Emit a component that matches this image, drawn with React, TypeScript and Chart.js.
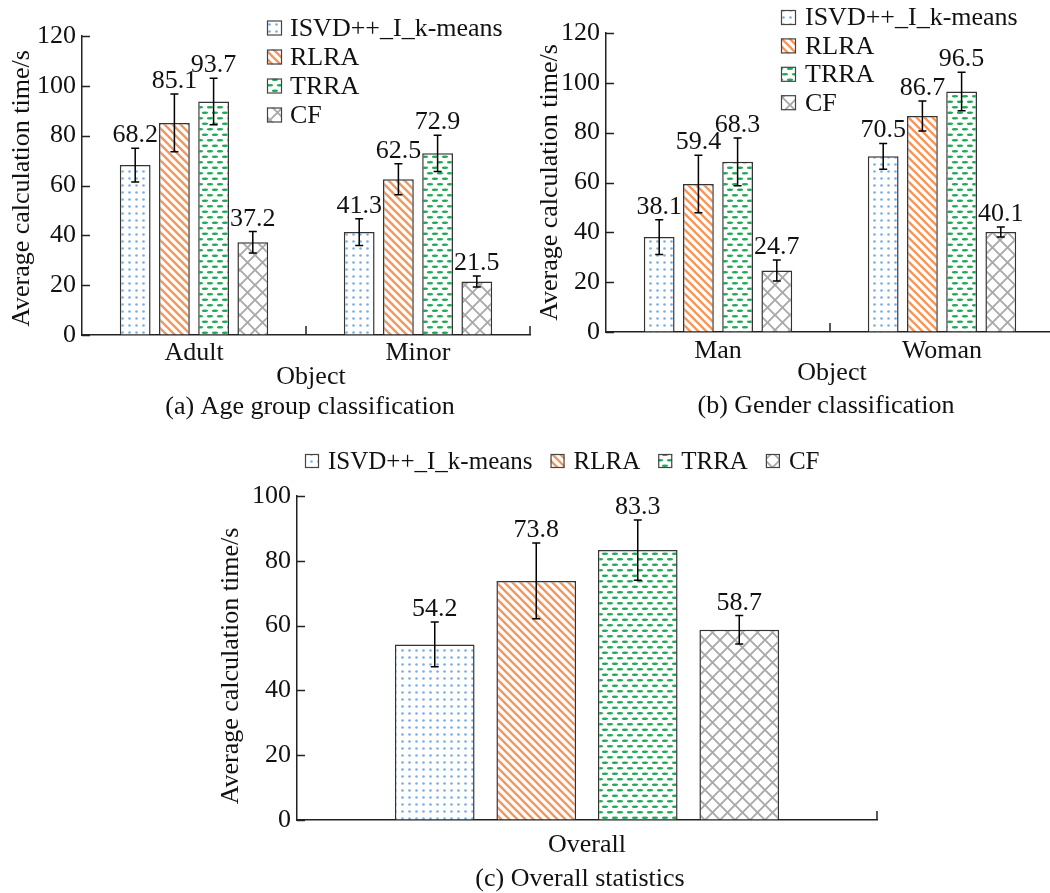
import React, { useEffect, useRef } from 'react';
import { Chart, registerables } from 'chart.js';

Chart.register(...registerables);

const FONT = '"Liberation Serif", "Times New Roman", Times, serif';
const TEXT_SIZE = 26;
const INK = '#111';

// Series shown in every panel
const SERIES = ['ISVD++_I_k-means', 'RLRA', 'TRRA', 'CF'];

// (a) Age group classification
const AGE_CATEGORIES = ['Adult', 'Minor'];
const AGE_ISVD = [68.2, 41.3];
const AGE_RLRA = [85.1, 62.5];
const AGE_TRRA = [93.7, 72.9];
const AGE_CF = [37.2, 21.5];
const AGE_ISVD_ERR = [6.8, 5.4];
const AGE_RLRA_ERR = [11.6, 6.2];
const AGE_TRRA_ERR = [9.3, 7.3];
const AGE_CF_ERR = [4.3, 2.2];

// (b) Gender classification
const GENDER_CATEGORIES = ['Man', 'Woman'];
const GENDER_ISVD = [38.1, 70.5];
const GENDER_RLRA = [59.4, 86.7];
const GENDER_TRRA = [68.3, 96.5];
const GENDER_CF = [24.7, 40.1];
const GENDER_ISVD_ERR = [7.0, 5.2];
const GENDER_RLRA_ERR = [11.5, 6.0];
const GENDER_TRRA_ERR = [9.6, 7.7];
const GENDER_CF_ERR = [4.2, 2.0];

// (c) Overall statistics
const OVERALL_CATEGORIES = ['Overall'];
const OVERALL_ISVD = [54.2];
const OVERALL_RLRA = [73.8];
const OVERALL_TRRA = [83.3];
const OVERALL_CF = [58.7];
const OVERALL_ISVD_ERR = [6.9];
const OVERALL_RLRA_ERR = [11.7];
const OVERALL_TRRA_ERR = [9.3];
const OVERALL_CF_ERR = [4.4];

const Y_TITLE = 'Average calculation time/s';

type Kind = 'dots' | 'stripes' | 'dashes' | 'cross';
const KINDS: Kind[] = ['dots', 'stripes', 'dashes', 'cross'];

function makePattern(kind: Kind): CanvasPattern | string {
  const c = document.createElement('canvas');
  const g = c.getContext('2d');
  if (!g) return '#fff';
  if (kind === 'dots') {
    c.width = 7; c.height = 7;
    g.fillStyle = '#fff'; g.fillRect(0, 0, 7, 7);
    g.fillStyle = '#78aee4';
    g.beginPath(); g.arc(3.5, 3.5, 1.3, 0, Math.PI * 2); g.fill();
  } else if (kind === 'stripes') {
    const s = 8;
    c.width = s; c.height = s;
    g.fillStyle = '#fff'; g.fillRect(0, 0, s, s);
    g.strokeStyle = '#f4965a'; g.lineWidth = 2.3;
    g.beginPath();
    g.moveTo(-2, -2); g.lineTo(s + 2, s + 2);
    g.moveTo(-2, s - 2); g.lineTo(2, s + 2);
    g.moveTo(s - 2, -2); g.lineTo(s + 2, 2);
    g.stroke();
  } else if (kind === 'dashes') {
    c.width = 10; c.height = 11;
    g.fillStyle = '#fff'; g.fillRect(0, 0, 10, 11);
    g.fillStyle = '#22aa58';
    const dash = (x: number, y: number) => {
      g.beginPath(); g.ellipse(x, y, 3.1, 1.3, 0, 0, Math.PI * 2); g.fill();
    };
    dash(5, 2.75); dash(0, 8.25); dash(10, 8.25);
  } else {
    const s = 15;
    c.width = s; c.height = s;
    g.fillStyle = '#fff'; g.fillRect(0, 0, s, s);
    g.strokeStyle = '#a9a9a9'; g.lineWidth = 1.9;
    g.beginPath();
    g.moveTo(-2, -2); g.lineTo(s + 2, s + 2);
    g.moveTo(-2, s + 2); g.lineTo(s + 2, -2);
    g.stroke();
  }
  return g.createPattern(c, 'repeat') || '#fff';
}

type PanelCfg = {
  left: number; top: number; width: number; height: number;
  padTop: number; padRight: number; yWidth: number; xHeight: number;
  xTickPad: number; yMax: number;
  categories: string[];
  values: number[][];
  errors: number[][];
  yTitle: { x: number; dy: number };
  xTitle?: { text: string; x: number; y: number };
  caption: { text: string; x: number; y: number };
  legend: { horizontal: boolean; x: number; y: number; step: number; box: number; gap: number; size: number };
};

const PANELS: PanelCfg[] = [
  {
    left: 0, top: 0, width: 540, height: 430,
    padTop: 36, padRight: 10, yWidth: 82, xHeight: 95, xTickPad: 3, yMax: 120,
    categories: AGE_CATEGORIES,
    values: [AGE_ISVD, AGE_RLRA, AGE_TRRA, AGE_CF],
    errors: [AGE_ISVD_ERR, AGE_RLRA_ERR, AGE_TRRA_ERR, AGE_CF_ERR],
    yTitle: { x: 22, dy: 3 },
    xTitle: { text: 'Object', x: 311, y: 377 },
    caption: { text: '(a) Age group classification', x: 310, y: 407 },
    legend: { horizontal: false, x: 267, y: 28, step: 29, box: 15, gap: 8, size: 26 },
  },
  {
    left: 535, top: 0, width: 525, height: 430,
    padTop: 33, padRight: 6, yWidth: 71, xHeight: 98, xTickPad: 4, yMax: 120,
    categories: GENDER_CATEGORIES,
    values: [GENDER_ISVD, GENDER_RLRA, GENDER_TRRA, GENDER_CF],
    errors: [GENDER_ISVD_ERR, GENDER_RLRA_ERR, GENDER_TRRA_ERR, GENDER_CF_ERR],
    yTitle: { x: 15, dy: 0 },
    xTitle: { text: 'Object', x: 297, y: 373 },
    caption: { text: '(b) Gender classification', x: 291, y: 406 },
    legend: { horizontal: false, x: 246, y: 17.5, step: 28.4, box: 15, gap: 9, size: 26 },
  },
  {
    left: 0, top: 430, width: 1050, height: 463,
    padTop: 66, padRight: 173, yWidth: 297, xHeight: 73, xTickPad: 10, yMax: 100,
    categories: OVERALL_CATEGORIES,
    values: [OVERALL_ISVD, OVERALL_RLRA, OVERALL_TRRA, OVERALL_CF],
    errors: [OVERALL_ISVD_ERR, OVERALL_RLRA_ERR, OVERALL_TRRA_ERR, OVERALL_CF_ERR],
    yTitle: { x: 231, dy: 8 },
    caption: { text: '(c) Overall statistics', x: 580, y: 449 },
    legend: { horizontal: true, x: 305, y: 31, step: 18, box: 14, gap: 9, size: 25 },
  },
];

function makeDecor(cfg: PanelCfg, fills: (CanvasPattern | string)[]) {
  const font = `${TEXT_SIZE}px ${FONT}`;
  return {
    id: 'decor',
    afterDatasetsDraw(chart: any) {
      const ctx: CanvasRenderingContext2D = chart.ctx;
      const y = chart.scales.y;
      ctx.save();
      ctx.strokeStyle = '#000';
      ctx.lineWidth = 1.5;
      ctx.fillStyle = INK;
      ctx.font = font;
      ctx.textAlign = 'center';
      ctx.textBaseline = 'alphabetic';
      cfg.values.forEach((series, i) => {
        const meta = chart.getDatasetMeta(i);
        series.forEach((v, j) => {
          const el = meta.data[j];
          const e = cfg.errors[i][j];
          const x = el.x;
          const yt = y.getPixelForValue(v + e);
          const yb = y.getPixelForValue(v - e);
          ctx.beginPath();
          ctx.moveTo(x, yt); ctx.lineTo(x, yb);
          ctx.moveTo(x - 4, yt); ctx.lineTo(x + 4, yt);
          ctx.moveTo(x - 4, yb); ctx.lineTo(x + 4, yb);
          ctx.stroke();
          ctx.fillText(v.toFixed(1), x, yt - 6);
        });
      });
      ctx.restore();
    },
    afterDraw(chart: any) {
      const ctx: CanvasRenderingContext2D = chart.ctx;
      const area = chart.chartArea;
      const x = chart.scales.x;
      const y = chart.scales.y;
      ctx.save();
      ctx.strokeStyle = '#222';
      ctx.lineWidth = 1.5;
      // inward tick marks on the value axis
      ctx.beginPath();
      y.ticks.forEach((t: any) => {
        const py = Math.round(y.getPixelForValue(t.value)) + 0.5;
        ctx.moveTo(area.left, py); ctx.lineTo(area.left + 8, py);
      });
      // category boundary ticks on the bottom axis
      const n = cfg.categories.length;
      for (let i = 1; i <= n; i++) {
        const px = i < n ? (x.getPixelForValue(i - 1) + x.getPixelForValue(i)) / 2 : area.right;
        ctx.moveTo(px, area.bottom); ctx.lineTo(px, area.bottom - 9);
      }
      ctx.stroke();

      ctx.fillStyle = INK;
      ctx.font = font;
      ctx.textAlign = 'center';
      ctx.textBaseline = 'middle';
      // value axis title
      ctx.save();
      ctx.translate(cfg.yTitle.x, (area.top + area.bottom) / 2 + cfg.yTitle.dy);
      ctx.rotate(-Math.PI / 2);
      ctx.fillText(Y_TITLE, 0, 0);
      ctx.restore();
      if (cfg.xTitle) ctx.fillText(cfg.xTitle.text, cfg.xTitle.x, cfg.xTitle.y);
      ctx.fillText(cfg.caption.text, cfg.caption.x, cfg.caption.y);

      // legend
      const lg = cfg.legend;
      ctx.font = `${lg.size}px ${FONT}`;
      ctx.textAlign = 'left';
      let lx = lg.x;
      SERIES.forEach((name, i) => {
        const bx = lg.horizontal ? lx : lg.x;
        const cy = lg.horizontal ? lg.y : lg.y + i * lg.step;
        ctx.fillStyle = fills[i] as any;
        ctx.fillRect(bx, cy - lg.box / 2, lg.box, lg.box);
        ctx.strokeStyle = '#444';
        ctx.lineWidth = 1.2;
        ctx.strokeRect(bx + 0.5, cy - lg.box / 2 + 0.5, lg.box - 1, lg.box - 1);
        ctx.fillStyle = INK;
        ctx.fillText(name, bx + lg.box + lg.gap, cy + 1);
        lx = bx + lg.box + lg.gap + ctx.measureText(name).width + lg.step;
      });
      ctx.restore();
    },
  };
}

function Panel({ cfg }: { cfg: PanelCfg }) {
  const ref = useRef<HTMLCanvasElement | null>(null);
  useEffect(() => {
    const canvas = ref.current;
    if (!canvas) return;
    const fills = KINDS.map(makePattern);
    const axisFont = { family: FONT, size: TEXT_SIZE };
    const chart = new Chart(canvas, {
      type: 'bar',
      data: {
        labels: cfg.categories,
        datasets: SERIES.map((name, i) => ({
          label: name,
          data: cfg.values[i],
          backgroundColor: fills[i] as any,
          borderColor: '#333',
          borderWidth: 1.5,
          categoryPercentage: 0.7,
          barPercentage: 0.785,
        })),
      },
      options: {
        responsive: false,
        animation: false,
        events: [],
        layout: { padding: { top: cfg.padTop, right: cfg.padRight, bottom: 0, left: 0 } },
        plugins: { legend: { display: false }, tooltip: { enabled: false }, title: { display: false } },
        scales: {
          x: {
            type: 'category',
            grid: { display: true, drawOnChartArea: false, drawTicks: false },
            border: { display: true, color: '#222', width: 1.5 },
            ticks: { padding: cfg.xTickPad, color: INK, font: axisFont, maxRotation: 0 },
            afterFit: (s: any) => { s.height = cfg.xHeight; },
          },
          y: {
            min: 0,
            max: cfg.yMax,
            grid: { display: true, drawOnChartArea: false, drawTicks: false },
            border: { display: true, color: '#222', width: 1.5 },
            ticks: { stepSize: 20, padding: 6, color: INK, font: axisFont },
            afterFit: (s: any) => { s.width = cfg.yWidth; },
          },
        },
      },
      plugins: [makeDecor(cfg, fills)],
    } as any);
    return () => chart.destroy();
  }, [cfg]);
  return (
    <canvas
      ref={ref}
      width={cfg.width}
      height={cfg.height}
      style={{ position: 'absolute', left: cfg.left, top: cfg.top, width: cfg.width, height: cfg.height }}
    />
  );
}

export default function App() {
  return (
    <div style={{ position: 'absolute', left: 0, top: 0, width: 1050, height: 893, overflow: 'hidden', background: '#fff' }}>
      {PANELS.map((p, i) => (
        <Panel key={i} cfg={p} />
      ))}
    </div>
  );
}
